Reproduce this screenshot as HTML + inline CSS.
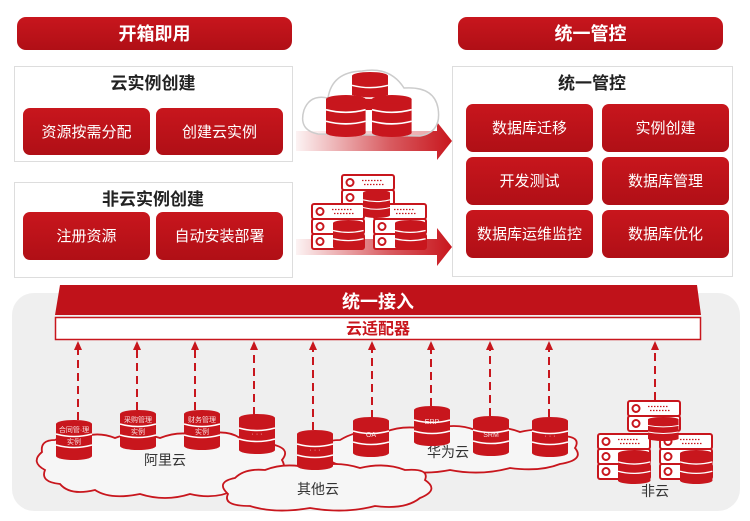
<!DOCTYPE html>
<html><head><meta charset="utf-8"><style>
html,body{margin:0;padding:0;background:#fff;}
svg{display:block;font-family:"Liberation Sans","Noto Sans CJK SC",sans-serif;}
</style></head><body>
<svg width="750" height="521" viewBox="0 0 750 521" xmlns="http://www.w3.org/2000/svg">
<defs>
<linearGradient id="btn" x1="0" y1="0" x2="0" y2="1"><stop offset="0" stop-color="#c8161d"/><stop offset="1" stop-color="#b00f16"/></linearGradient>
<linearGradient id="band" x1="0" y1="0" x2="1" y2="0"><stop offset="0" stop-color="#c8161d" stop-opacity="0.05"/><stop offset="0.6" stop-color="#c8161d" stop-opacity="0.7"/><stop offset="1" stop-color="#c8161d"/></linearGradient>
<g id="cyl">
<rect x="0" y="4" width="36" height="32" fill="#c8161d"/>
<ellipse cx="18" cy="4" rx="18" ry="4" fill="#c8161d"/>
<ellipse cx="18" cy="36" rx="18" ry="4" fill="#c8161d"/>
<path d="M0 14 Q18 19 36 14 M0 25 Q18 30 36 25" stroke="#fff" stroke-width="1.6" fill="none"/>
</g>
<g id="srv">
<rect x="0" y="0" width="52" height="15" rx="2" fill="#fff" stroke="#c8161d" stroke-width="2"/>
<circle cx="8" cy="7.5" r="3.5" fill="none" stroke="#c8161d" stroke-width="2"/>
<path d="M20 5.5h20M22 9.5h20" stroke="#c8161d" stroke-width="1.3" stroke-dasharray="1.5 1.5"/>
</g>
<g id="srvd">
<rect x="0" y="0" width="52" height="15" rx="2" fill="#fff" stroke="#c8161d" stroke-width="2"/>
<circle cx="8" cy="7.5" r="3.5" fill="none" stroke="#c8161d" stroke-width="2"/>
</g>
</defs>

<rect x="17" y="17" width="275" height="33" rx="9" fill="url(#btn)"/>
<text x="154.5" y="40" fill="#fff" font-size="18" font-weight="bold" text-anchor="middle">开箱即用</text>
<rect x="458" y="17" width="265" height="33" rx="9" fill="url(#btn)"/>
<text x="590.5" y="40" fill="#fff" font-size="18" font-weight="bold" text-anchor="middle">统一管控</text>

<rect x="14.5" y="66.5" width="278" height="95" fill="#fff" stroke="#ddd"/>
<text x="153" y="89" font-size="17" font-weight="bold" text-anchor="middle" fill="#222">云实例创建</text>
<rect x="23" y="108" width="127" height="47" rx="7" fill="url(#btn)"/>
<text x="86.5" y="137" fill="#fff" font-size="15" text-anchor="middle">资源按需分配</text>
<rect x="156" y="108" width="127" height="47" rx="7" fill="url(#btn)"/>
<text x="219.5" y="137" fill="#fff" font-size="15" text-anchor="middle">创建云实例</text>

<rect x="14.5" y="182.5" width="278" height="95" fill="#fff" stroke="#ddd"/>
<text x="153" y="205" font-size="17" font-weight="bold" text-anchor="middle" fill="#222">非云实例创建</text>
<rect x="23" y="212" width="127" height="48" rx="7" fill="url(#btn)"/>
<text x="86.5" y="241" fill="#fff" font-size="15" text-anchor="middle">注册资源</text>
<rect x="156" y="212" width="127" height="48" rx="7" fill="url(#btn)"/>
<text x="219.5" y="241" fill="#fff" font-size="15" text-anchor="middle">自动安装部署</text>

<rect x="452.5" y="66.5" width="280" height="210" fill="#fff" stroke="#ddd"/>
<text x="592" y="89" font-size="17" font-weight="bold" text-anchor="middle" fill="#222">统一管控</text>
<g fill="url(#btn)">
<rect x="466" y="104" width="127" height="48" rx="7"/><rect x="602" y="104" width="127" height="48" rx="7"/>
<rect x="466" y="157" width="127" height="48" rx="7"/><rect x="602" y="157" width="127" height="48" rx="7"/>
<rect x="466" y="210" width="127" height="48" rx="7"/><rect x="602" y="210" width="127" height="48" rx="7"/>
</g>
<g fill="#fff" font-size="15" text-anchor="middle">
<text x="529.5" y="133">数据库迁移</text><text x="665.5" y="133">实例创建</text>
<text x="529.5" y="186">开发测试</text><text x="665.5" y="186">数据库管理</text>
<text x="529.5" y="239">数据库运维监控</text><text x="665.5" y="239">数据库优化</text>
</g>

<path d="M296 131 H437 V122 L452 141 L437 160 V151 H296 Z" fill="url(#band)"/>
<path d="M318 134 Q298 130 304 110 Q310 94 328 98 Q332 72 362 71 Q390 66 404 88 Q434 86 438 108 Q442 132 420 136 Z" fill="#fff" fill-opacity="0.6" stroke="#ccc" stroke-width="1.5"/>
<use href="#cyl" x="352" y="72" transform="translate(352 72) scale(1 0.95) translate(-352 -72)"/>
<use href="#cyl" x="326" y="95" transform="translate(326 95) scale(1.1 1.05) translate(-326 -95)"/>
<use href="#cyl" x="372" y="95" transform="translate(372 95) scale(1.1 1.05) translate(-372 -95)"/>
<path d="M296 239 H437 V228 L452 247 L437 266 V255 H296 Z" fill="url(#band)"/>
<use href="#srv" x="342" y="175"/>
<use href="#srvd" x="342" y="190"/>
<use href="#srv" x="312" y="204"/><use href="#srvd" x="312" y="219"/><use href="#srvd" x="312" y="234"/>
<use href="#srv" x="374" y="204"/><use href="#srvd" x="374" y="219"/><use href="#srvd" x="374" y="234"/>
<use href="#cyl" x="363" y="190" transform="translate(363 190) scale(0.75 0.7) translate(-363 -190)"/>
<use href="#cyl" x="333" y="220" transform="translate(333 220) scale(0.85 0.75) translate(-333 -220)"/>
<use href="#cyl" x="395" y="220" transform="translate(395 220) scale(0.85 0.75) translate(-395 -220)"/>

<rect x="12" y="293" width="728" height="218" rx="22" fill="#efefef"/>
<path d="M60 285 H697 L701 315 H55 Z" fill="#c0121a"/>
<text x="378" y="308" fill="#fff" font-size="18" font-weight="bold" text-anchor="middle">统一接入</text>
<rect x="55.5" y="317.5" width="645" height="22" fill="#fff" stroke="#c8161d" stroke-width="1.5"/>
<text x="378" y="334" fill="#c8161d" font-size="16" font-weight="bold" text-anchor="middle">云适配器</text>

<g stroke="#c8161d" stroke-width="2" stroke-dasharray="8 5">
<path d="M78 420 V350"/><path d="M137 410 V350"/><path d="M195 410 V350"/><path d="M254 415 V350"/>
<path d="M313 430 V350"/><path d="M372 418 V350"/><path d="M431 406 V350"/><path d="M490 416 V350"/>
<path d="M549 417 V350"/><path d="M655 400 V350"/>
</g>
<g fill="#c8161d">
<path d="M74 350 L78 341 L82 350Z"/><path d="M133 350 L137 341 L141 350Z"/><path d="M191 350 L195 341 L199 350Z"/>
<path d="M250 350 L254 341 L258 350Z"/><path d="M309 350 L313 341 L317 350Z"/><path d="M368 350 L372 341 L376 350Z"/>
<path d="M427 350 L431 341 L435 350Z"/><path d="M486 350 L490 341 L494 350Z"/><path d="M545 350 L549 341 L553 350Z"/>
<path d="M651 350 L655 341 L659 350Z"/>
</g>

<g fill="#f6f6f6" stroke="#c8161d" stroke-width="1.8">
<path d="M55 440 Q40 440 42 452 Q30 462 45 470 Q40 482 60 484 Q70 496 95 490 Q110 500 140 494 Q165 502 190 494 Q215 500 235 490 Q260 492 265 478 Q290 474 282 460 Q292 448 270 444 Q262 432 240 438 Q225 428 200 436 Q180 430 160 438 Q135 430 115 438 Q95 430 75 440 Q65 434 55 440 Z"/>
<path d="M340 440 Q320 440 332 452 Q322 462 345 466 Q365 474 395 468 Q420 476 450 470 Q480 476 510 468 Q540 472 560 464 Q585 460 575 448 Q582 436 560 436 Q545 426 520 432 Q500 424 475 430 Q455 422 430 430 Q405 424 385 432 Q360 428 340 440 Z"/>
<path d="M235 478 Q215 482 228 494 Q222 506 250 506 Q275 514 310 508 Q345 514 375 506 Q405 510 420 498 Q440 490 425 480 Q430 468 405 470 Q385 462 360 468 Q335 460 310 468 Q285 462 265 470 Q245 468 235 478 Z"/>
</g>
<g font-size="14" fill="#333" text-anchor="middle">
<text x="165" y="465">阿里云</text><text x="318" y="494">其他云</text><text x="448" y="457">华为云</text><text x="655" y="496">非云</text>
</g>

<use href="#cyl" x="56" y="420"/><use href="#cyl" x="120" y="410"/><use href="#cyl" x="184" y="410"/>
<use href="#cyl" x="239" y="414"/><use href="#cyl" x="297" y="430"/><use href="#cyl" x="353" y="417"/>
<use href="#cyl" x="414" y="406"/><use href="#cyl" x="473" y="416"/><use href="#cyl" x="532" y="417"/>
<g fill="#fff" font-size="7" text-anchor="middle" opacity="0.85">
<text x="74" y="432">合同管·理</text><text x="74" y="444">实例</text>
<text x="138" y="422">采购管理</text><text x="138" y="434">实例</text>
<text x="202" y="422">财务管理</text><text x="202" y="434">实例</text>
<text x="257" y="436">· · ·</text><text x="315" y="452">· · ·</text>
<text x="371" y="437">OA</text><text x="432" y="424">ERP</text><text x="491" y="437">SRM</text><text x="550" y="438">· · ·</text>
</g>

<use href="#srv" x="628" y="401"/><use href="#srvd" x="628" y="416"/>
<use href="#srv" x="598" y="434"/><use href="#srvd" x="598" y="449"/><use href="#srvd" x="598" y="464"/>
<use href="#srv" x="660" y="434"/><use href="#srvd" x="660" y="449"/><use href="#srvd" x="660" y="464"/>
<use href="#cyl" x="648" y="417" transform="translate(648 417) scale(0.85 0.6) translate(-648 -417)"/>
<use href="#cyl" x="618" y="450" transform="translate(618 450) scale(0.9 0.85) translate(-618 -450)"/>
<use href="#cyl" x="680" y="450" transform="translate(680 450) scale(0.9 0.85) translate(-680 -450)"/>
</svg>
</body></html>
